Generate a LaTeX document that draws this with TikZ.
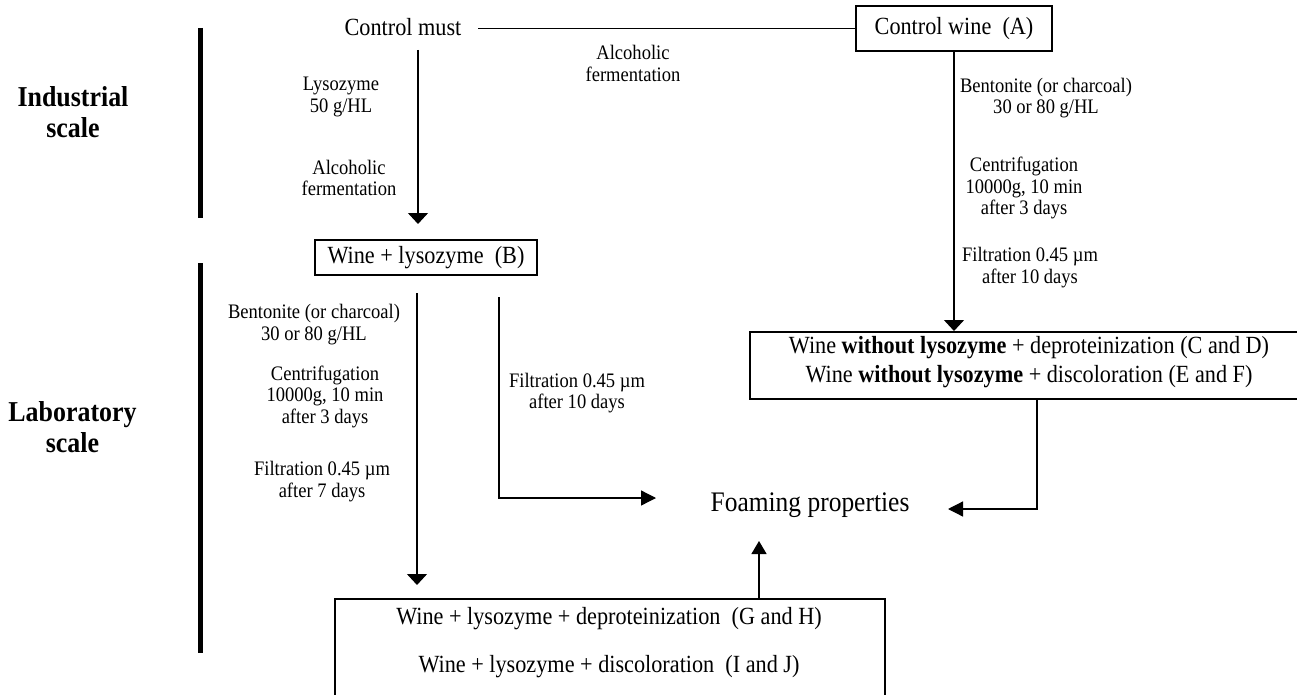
\documentclass[tikz,border=0pt]{standalone}
\usepackage{fontspec}
\setmainfont{Liberation Serif}[FakeStretch=0.9]
\usetikzlibrary{arrows.meta}
\begin{document}
\begin{tikzpicture}[x=1pt,y=-1pt,
  lbl/.style={font=\fontsize{20.6}{21.5}\selectfont, align=center, inner sep=0pt},
  mid/.style={font=\fontsize{24.7}{29}\selectfont, align=center, inner sep=0pt},
  scalelbl/.style={font=\fontsize{28.8}{31}\selectfont\bfseries, align=center, inner sep=0pt},
  bar/.style={line width=5pt},
  conn/.style={line width=1.3pt},
  arrv/.style={conn, -{Triangle[length=11pt,width=20pt]}},
  arrh/.style={conn, -{Triangle[length=15pt,width=15pt]}},
  box/.style={draw, line width=1.5pt, inner sep=0pt},
]
\useasboundingbox[fill=white] (0,0) rectangle (1297,695);

% scale bars and labels
\draw[bar] (200,28) -- (200,218);
\draw[bar] (200,263) -- (200,653);
\node[scalelbl] (ind) at (73,112) {Industrial\\scale};
\node[scalelbl] (lab) at (72.5,427) {Laboratory\\scale};

% main nodes
\node[mid] (must) at (403,27) {Control must};
\node[box, mid, minimum width=196pt, minimum height=45pt] (A) at (954,28.5) {Control wine\ \ (A)};
\node[box, mid, minimum width=222pt, minimum height=35pt] (B) at (426,257.5) {Wine + lysozyme\ \ (B)};
\node[box, anchor=north west, minimum width=620pt, minimum height=67pt] (CF) at (749,331) {};
\node[mid] (CFtext) at (1029,362) {Wine \textbf{without lysozyme} + deproteinization (C and D)\\Wine \textbf{without lysozyme} + discoloration (E and F)};
\node[box, anchor=north west, minimum width=550pt, minimum height=150pt] (GJ) at (334,598) {};
\node[mid, font=\fontsize{24.7}{48}\selectfont] (GJtext) at (609,643) {Wine + lysozyme + deproteinization\ \ (G and H)\\Wine + lysozyme + discoloration\ \ (I and J)};
\node[font=\fontsize{28.3}{30}\selectfont, inner sep=0pt] (foam) at (810,505) {Foaming properties};

% step labels
\node[lbl] (aft) at (633,63.5) {Alcoholic\\fermentation};
\node[lbl] (lysl) at (341,97) {Lysozyme\\50 g/HL};
\node[lbl] (afl) at (349,178) {Alcoholic\\fermentation};
\node[lbl] (benR) at (1046,98) {Bentonite (or charcoal)\\30 or 80 g/HL};
\node[lbl] (cenR) at (1024,188) {Centrifugation\\10000g, 10 min\\after 3 days};
\node[lbl] (filR) at (1030,267.5) {Filtration 0.45 µm\\after 10 days};
\node[lbl] (benL) at (314,324.5) {Bentonite (or charcoal)\\30 or 80 g/HL};
\node[lbl] (cenL) at (325,396.5) {Centrifugation\\10000g, 10 min\\after 3 days};
\node[lbl] (filL) at (322,481.5) {Filtration 0.45 µm\\after 7 days};
\node[lbl] (filM) at (577,393) {Filtration 0.45 µm\\after 10 days};

% connector end points
\coordinate (mustR) at (478,28.5);
\coordinate (mustD) at (418,50);
\coordinate (tipB) at (418,224);
\coordinate (bL) at (417,293);
\coordinate (tipGJ) at (417,585);
\coordinate (bR) at (499,297);
\coordinate (tipFL) at (656,498);
\coordinate (cfOut) at (1037,398);
\coordinate (tipFR) at (948,509);
\coordinate (gjOut) at (759,598);
\coordinate (tipFB) at (759,541);

% connectors
\draw[conn, line width=1.6pt] (mustR) -- (A.west);
\draw[arrv] (mustD) -- (tipB);
\draw[arrv] (A.south) -- (A.south |- CF.north);
\draw[arrv] (bL) -- (tipGJ);
\draw[arrh] (bR) |- (tipFL);
\draw[arrh] (cfOut) |- (tipFR);
\draw[conn, -{Triangle[length=13pt,width=15pt]}] (gjOut) -- (tipFB);
\end{tikzpicture}
\end{document}
